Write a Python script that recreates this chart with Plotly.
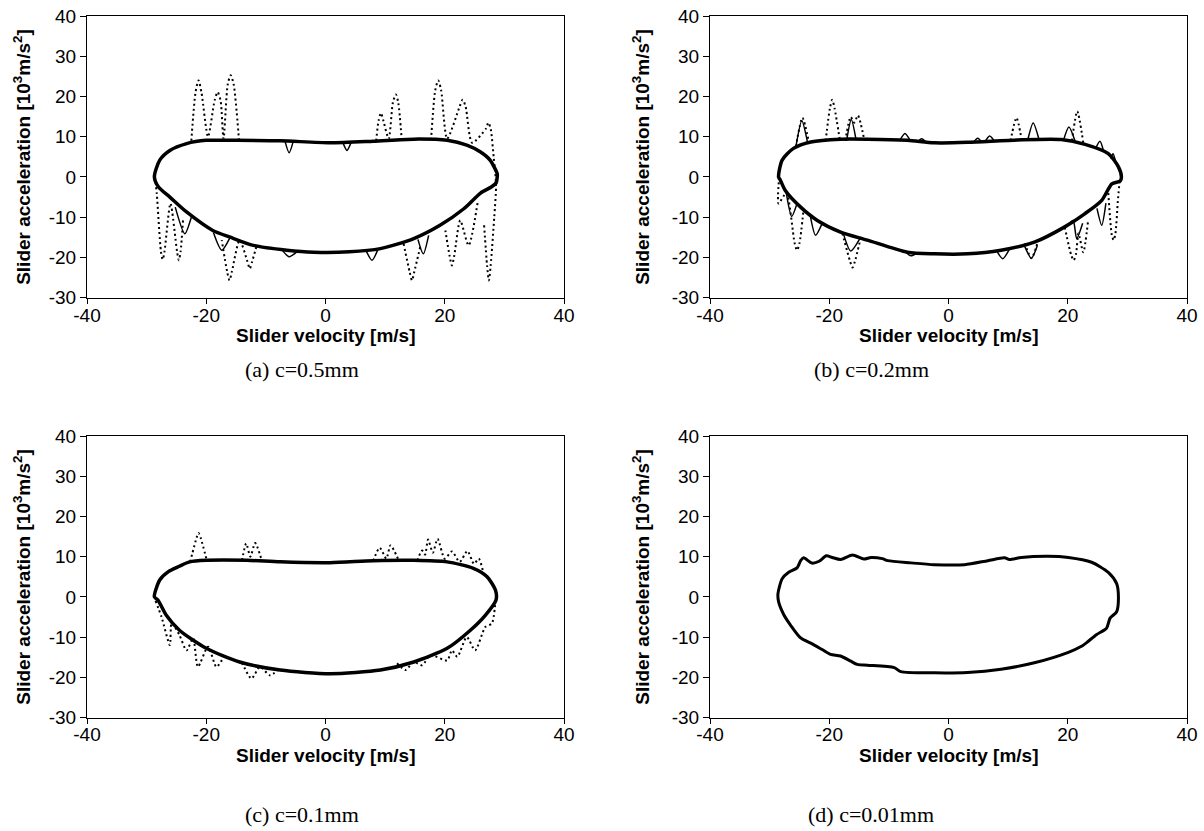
import plotly.graph_objects as go

# ---------------- data ----------------
# (a) c=0.5mm
a_base_x = [-28.7, -27.8, -26.1, -23.3, -20.0, -15.0, -7.6, 0.75, 8.0, 14.8, 20.4, 23.7, 26.0, 27.6, 28.8,
            28.8, 28.6, 27.8, 26.0, 23.2, 19.2, 14.8, 9.2, 4.0, -2.0, -6.5, -12.1, -16.1, -18.9, -23.3, -26.1, -28.0, -28.7]
a_base_y = [0.0, 4.2, 6.6, 8.3, 9.1, 9.1, 9.0, 8.5, 8.9, 9.4, 9.1, 7.9, 6.2, 4.2, 0.8,
            0.0, -1.5, -2.5, -4.0, -7.9, -12.0, -15.3, -17.8, -18.6, -18.7, -18.2, -17.0, -14.9, -13.3, -8.7, -5.0, -2.5, 0.0]
a_dot_x = [-22.5, -21.8, -21.3, -20.8, -19.7, -18.6, -18.1, -17.6, -17.1, -16.4, -15.9, -15.4, -14.5, None,
           8.5, 8.9, 9.3, 9.7, 10.6, 11.3, 11.8, 12.2, 12.8, None,
           17.7, 18.4, 18.9, 19.4, 20.4, 22.5, 23.0, 23.5, 24.6, 26.9, 27.3, 27.7, 28.2, 28.6, 28.3, 27.7, 27.4, 27.1, 26.6, None,
           25.5, 24.0, 22.6, 21.6, 21.2, 20.8, 20.1, None,
           13.1, 14.1, 14.5, 14.9, 15.9, None,
           -11.6, -12.3, -12.7, -13.1, -14.4, -15.7, -16.1, -16.5, -17.4, None,
           -23.9, -24.3, -24.6, -24.9, -26.0, -27.0, -27.3, -27.6, -28.3, -28.6]
a_dot_y = [9.0, 21.0, 24.0, 21.0, 10.0, 19.0, 21.1, 19.0, 9.5, 23.0, 25.3, 23.0, 9.0, None,
           9.0, 14.0, 15.9, 14.0, 9.5, 18.5, 20.5, 18.5, 9.0, None,
           9.2, 21.5, 24.0, 21.5, 9.5, 17.5, 19.2, 17.5, 8.5, 12.0, 13.5, 12.0, 5.0, -2.0, -10.0, -22.0, -25.7, -22.0, -12.0, None,
           -6.5, -17.0, -10.8, -19.5, -22.0, -19.5, -13.3, None,
           -16.6, -23.5, -25.7, -23.5, -17.3, None,
           -17.4, -21.0, -22.8, -21.0, -15.7, -23.5, -25.7, -23.5, -15.7, None,
           -10.8, -18.5, -20.7, -18.5, -6.6, -18.5, -20.5, -18.5, -4.1, 0.0]
a_thin_x = [-6.8, -6.1, -5.4, None, 2.9, 3.6, 4.3, None,
            -25.2, -23.6, -22.5, None, -18.8, -17.4, -16.0, None,
            -7.2, -6.1, -4.8, None, 6.8, 7.8, 8.8, None, 15.5, 16.4, 17.3]
a_thin_y = [8.9, 6.0, 8.9, None, 8.6, 6.6, 8.6, None,
            -7.5, -14.1, -10.0, None, -13.8, -18.2, -15.0, None,
            -18.3, -19.8, -18.6, None, -18.3, -20.7, -18.0, None, -15.5, -19.1, -14.5]

# (b) c=0.2mm
b_base_x = [-28.5, -27.9, -26.0, -23.1, -18.1, -13.6, -6.9, -2.4, 3.2, 11.6, 18.9, 22.9, 26.8, 28.5, 29.0,
            28.8, 27.4, 25.7, 22.9, 19.5, 14.4, 8.8, 3.2, -2.4, -6.9, -13.6, -18.1, -22.0, -24.8, -27.4, -28.2, -28.5]
b_base_y = [0.0, 4.2, 7.1, 8.7, 9.4, 9.4, 9.1, 8.5, 8.6, 9.2, 9.3, 8.1, 5.8, 2.5, 0.0,
            -1.0, -1.7, -5.8, -9.1, -12.4, -16.2, -18.2, -19.1, -19.1, -18.7, -15.7, -13.7, -10.8, -7.5, -3.3, -0.8, 0.0]
b_dot_x = [-20.6, -19.9, -19.5, -19.1, -18.2, None,
           -17.3, -16.4, -15.8, -15.2, -14.1, None,
           -25.6, -24.5, -23.4, None,
           10.4, 11.4, 12.3, None,
           20.7, 21.6, 22.6, None,
           -28.4, -28.5, -27.2, -25.8, -25.4, -25.0, -24.3, None,
           -17.8, -16.5, -16.1, -15.7, -14.7, None,
           12.8, 13.9, 15.0, None,
           19.5, 20.6, 21.0, 21.4, 21.8, 22.6, 23.4, None,
           26.8, 27.4, 27.7, 28.0, 28.4, 28.7]
b_dot_y = [9.0, 17.0, 19.2, 17.0, 9.0, None,
           9.0, 14.9, 13.5, 15.3, 9.0, None,
           7.5, 14.7, 8.5, None,
           9.0, 14.7, 9.0, None,
           9.0, 16.3, 8.5, None,
           0.0, -6.6, -4.0, -16.5, -18.2, -16.5, -8.0, None,
           -14.0, -21.0, -22.5, -21.0, -15.0, None,
           -16.5, -20.2, -16.0, None,
           -12.5, -19.5, -20.7, -19.0, -14.0, -18.7, -11.0, None,
           -4.0, -14.5, -15.7, -14.0, -6.0, -1.0]
b_thin_x = [-8.2, -7.3, -6.4, None, -5.2, -4.5, -3.8, None, 4.2, 4.9, 5.6, None, 6.1, 6.9, 7.8, None,
            13.3, 14.2, 15.2, None, 19.3, 20.2, 21.2, None, 24.7, 25.4, 26.0, None, 27.2, 27.6, 28.0, None,
            -25.6, -24.6, -23.6, None, -17.1, -16.3, -15.5, None,
            -27.2, -26.3, -25.4, None, -23.2, -22.3, -21.2, None, -17.6, -16.4, -14.7, None,
            -7.3, -6.3, -5.2, None, 8.0, 9.1, 10.2, None, 12.8, 13.9, 14.9, None,
            19.9, 20.9, 21.5, 22.5, None, 24.9, 25.7, 26.4]
b_thin_y = [9.0, 10.8, 9.0, None, 8.7, 9.5, 8.7, None, 8.6, 9.6, 8.6, None, 8.7, 10.2, 8.7, None,
            9.2, 13.4, 9.2, None, 9.2, 12.4, 9.0, None, 7.2, 8.9, 6.5, None, 4.6, 5.8, 4.0, None,
            7.5, 14.0, 8.3, None, 9.0, 14.3, 9.2, None,
            -4.0, -9.8, -6.6, None, -9.5, -14.5, -11.6, None, -14.2, -18.4, -14.9, None,
            -18.5, -19.6, -18.8, None, -18.2, -20.3, -18.0, None, -17.3, -20.2, -17.0, None,
            -12.2, -10.8, -15.3, -11.5, None, -7.8, -12.0, -6.5]

# (c) c=0.1mm
c_base_x = [-28.7, -27.8, -26.4, -24.5, -22.8, -20.0, -13.2, -7.6, 0.75, 8.0, 14.8, 20.4, 24.8, 27.1, 28.5, 28.6,
            26.8, 24.3, 20.4, 14.8, 9.2, 0.75, -7.6, -14.4, -20.0, -24.5, -26.7, -28.1, -28.7]
c_base_y = [0.0, 4.2, 6.2, 7.6, 8.7, 9.1, 9.1, 8.7, 8.5, 9.0, 9.1, 8.7, 7.1, 5.0, 1.7, -0.8,
            -4.6, -8.3, -12.8, -16.2, -18.2, -19.1, -18.2, -16.2, -12.8, -8.3, -4.6, -0.8, 0.0]
c_dot_x = [-22.7, -21.6, -21.3, -20.9, -19.9, None,
           -14.0, -13.3, -12.6, -11.8, -10.7, None,
           8.0, 9.1, 10.2, 10.9, 12.3, None,
           15.4, 16.2, 16.7, 17.2, 18.0, 18.8, 20.0, 21.2, 22.5, 23.8, 24.9, 25.7, 26.4, None,
           -28.5, -27.5, -26.1, -25.8, -24.5, -23.3, -22.2, -21.4, -19.7, -18.3, -17.2, None,
           -14.0, -12.4, -11.0, -9.3, -8.0, None,
           12.0, 13.4, 14.8, 16.2, 17.6, 20.4, 21.2, 22.1, 23.7, 25.1, 26.8, 27.9, 28.5]
c_dot_y = [8.7, 14.8, 15.9, 14.5, 9.0, None,
           9.1, 13.25, 10.0, 13.4, 9.1, None,
           9.0, 12.2, 9.5, 12.8, 9.0, None,
           9.1, 11.5, 10.5, 14.25, 11.0, 14.4, 9.5, 11.3, 8.7, 11.4, 8.2, 9.5, 6.5, None,
           -1.0, -5.0, -12.0, -6.5, -9.5, -13.3, -10.3, -17.4, -12.4, -17.4, -15.3, None,
           -16.4, -20.3, -17.4, -19.5, -18.2, None,
           -16.5, -18.2, -16.2, -17.0, -14.5, -15.8, -13.3, -14.9, -10.0, -13.3, -7.5, -6.6, -1.0]

# (d) c=0.01mm
d_x = [-28.6, -27.9, -26.8, -25.4, -24.8, -24.3, -22.9, -21.7, -20.5, -19.5, -18.1, -16.1, -14.2, -13.0,
       -11.1, -10.2, -6.3, -2.4, 2.7, 6.6, 9.4, 10.2, 12.2, 16.7, 20.1, 24.0, 26.8, 28.2, 28.5, 28.2,
       27.1, 26.5, 24.8, 23.4, 22.3, 20.1, 14.4, 8.8, 3.2, -2.4, -8.0, -9.1, -13.6, -15.3, -16.4, -18.1,
       -19.8, -21.2, -23.1, -24.8, -26.5, -27.6, -28.5, -28.6]
d_y = [0.8, 4.5, 6.1, 7.2, 9.0, 9.7, 8.4, 8.85, 10.2, 9.8, 9.3, 10.4, 9.4, 9.8,
       9.5, 9.0, 8.45, 8.0, 8.0, 9.0, 9.7, 9.3, 9.8, 10.1, 9.8, 8.6, 6.1, 3.3, -0.4, -3.7,
       -5.3, -7.8, -9.4, -11.1, -12.3, -13.8, -16.4, -18.0, -18.8, -18.9, -18.6, -17.6, -17.0, -16.8, -16.0, -14.7,
       -14.3, -13.1, -11.5, -10.2, -7.0, -4.5, -1.2, 0.8]

subtitles = ["(a) c=0.5mm", "(b) c=0.2mm", "(c) c=0.1mm", "(d) c=0.01mm"]
x_title = "<b>Slider velocity [m/s]</b>"
y_title = "<b>Slider acceleration [10<sup>3</sup>m/s<sup>2</sup>]</b>"
x_ticks = [-40, -20, 0, 20, 40]
x_ticktext = ["-40", "-20", "0", "20", "40"]
y_ticks = [-30, -20, -10, 0, 10, 20, 30, 40]
y_ticktext = ["-30", "-20", "-10", "0", "10", "20", "30", "40"]

# ---------------- figure ----------------
W, H = 1204, 831
fig = go.Figure()


def px_x(p):
    return p / W


def px_y(p):
    return 1 - p / H


# plot-area boxes in pixels (left, right, top, bottom)
boxes = [(87, 564, 16, 297.7), (710, 1187, 16, 297.7),
         (87, 564, 436, 717.5), (710, 1187, 436, 717.5)]
# text positions in pixels: (ytitle_x, xtitle_y, subtitle_x, subtitle_y)
text_pos = [(22, 335, 302, 370), (641, 335, 871, 370),
            (22, 755, 302, 814), (641, 755, 871, 814)]

panels = [
    [(a_base_x, a_base_y, "solid", 3.5), (a_dot_x, a_dot_y, "dot", 2), (a_thin_x, a_thin_y, "solid", 1.5)],
    [(b_base_x, b_base_y, "solid", 3.5), (b_dot_x, b_dot_y, "dot", 2), (b_thin_x, b_thin_y, "solid", 1.5)],
    [(c_base_x, c_base_y, "solid", 3.5), (c_dot_x, c_dot_y, "dot", 2)],
    [(d_x, d_y, "solid", 3)],
]

sans = "Liberation Sans, Arial"
serif = "Liberation Serif, Times New Roman"

for i, (box, traces) in enumerate(zip(boxes, panels)):
    n = "" if i == 0 else str(i + 1)
    xa, ya = "x" + n, "y" + n
    xt = "x" + str(i + 5)  # overlay axis that only draws the x tick marks
    for xs, ys, dash, w in traces:
        fig.add_trace(go.Scatter(
            x=xs, y=ys, mode="lines", xaxis=xa, yaxis=ya, showlegend=False,
            line=dict(color="black", width=w, dash="2px,3px" if dash == "dot" else "solid",
                      shape="spline", smoothing=0.7),
            connectgaps=False, hoverinfo="skip"))
    fig.add_trace(go.Scatter(x=[], y=[], xaxis=xt, yaxis=ya, showlegend=False, hoverinfo="skip"))
    l, r, t, b = box
    tfont = dict(family=sans, size=19, color="black")
    fig.layout["xaxis" + n] = dict(
        domain=[px_x(l), px_x(r)], anchor=ya, range=[-40, 40], tickvals=x_ticks, ticktext=x_ticktext,
        showline=True, linecolor="black", linewidth=1, mirror=True, ticks="",
        showgrid=False, zeroline=False, automargin=False, tickfont=tfont, ticklabeloverflow="allow")
    fig.layout["xaxis" + str(i + 5)] = dict(
        overlaying=xa, anchor=ya, range=[-40, 40], tickvals=x_ticks, ticks="outside", ticklen=5,
        tickcolor="black", tickwidth=1, showticklabels=False, showline=False, showgrid=False,
        zeroline=False, automargin=False)
    fig.layout["yaxis" + n] = dict(
        domain=[px_y(b), px_y(t)], anchor=xa, range=[-30, 40], tickvals=y_ticks, ticktext=y_ticktext,
        showline=True, linecolor="black", linewidth=1, mirror=True, ticks="outside", ticklen=6,
        tickcolor="black", showgrid=False, zeroline=False, automargin=False, tickfont=tfont,
        ticklabeloverflow="allow")
    ytx, xty, stx, sty = text_pos[i]
    fig.add_annotation(text=x_title, xref="paper", yref="paper",
                       x=px_x((l + r) / 2), y=px_y(xty), showarrow=False,
                       xanchor="center", yanchor="middle",
                       font=dict(family=sans, size=19, color="black"))
    fig.add_annotation(text=y_title, xref="paper", yref="paper", textangle=-90,
                       x=px_x(ytx), y=px_y((t + b) / 2), showarrow=False,
                       xanchor="center", yanchor="middle",
                       font=dict(family=sans, size=19, color="black"))
    fig.add_annotation(text=subtitles[i], xref="paper", yref="paper",
                       x=px_x(stx), y=px_y(sty), showarrow=False,
                       xanchor="center", yanchor="middle",
                       font=dict(family=serif, size=22, color="black"))

fig.update_layout(width=W, height=H, margin=dict(l=0, r=0, t=0, b=0),
                  paper_bgcolor="white", plot_bgcolor="white")
# remove the default page margin so the figure sits at the window origin
fig.write_html("out.html", config={"displayModeBar": False},
               post_script="document.body.style.margin='0';")
